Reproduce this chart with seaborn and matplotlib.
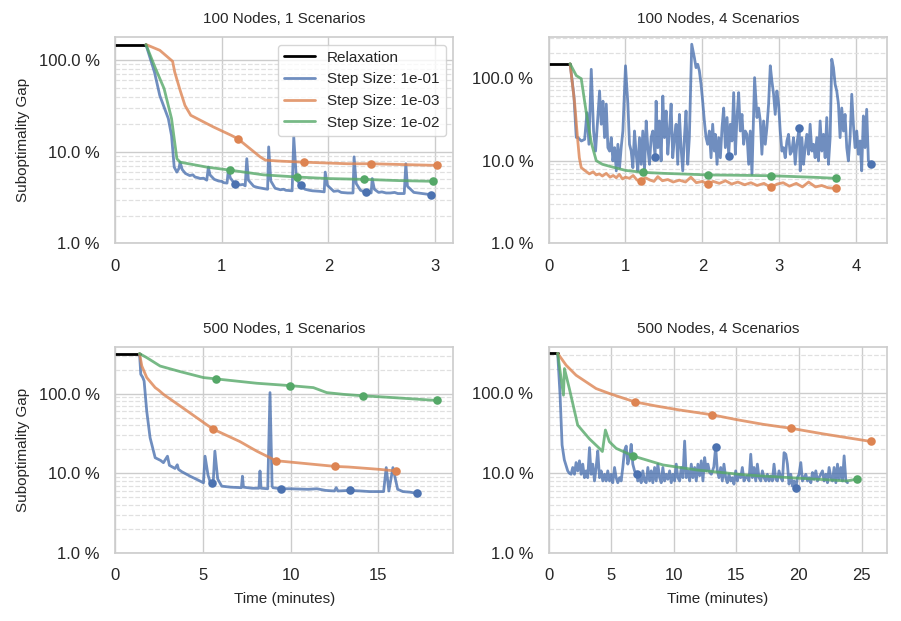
import matplotlib
matplotlib.use("Agg")
import matplotlib.pyplot as plt
from matplotlib.ticker import FuncFormatter, NullFormatter
import seaborn as sns

# ---------------- data ----------------
TITLES = ["100 Nodes, 1 Scenarios", "100 Nodes, 4 Scenarios",
          "500 Nodes, 1 Scenarios", "500 Nodes, 4 Scenarios"]
SERIES_LABELS = ["Step Size: 1e-01", "Step Size: 1e-03", "Step Size: 1e-02"]
RELAX_LABEL = "Relaxation"
Y_LABEL = "Suboptimality Gap"
X_LABEL = "Time (minutes)"

# Panel 1: 100 nodes, 1 scenario
P1_RELAX_X = [0, 0.29]
P1_RELAX_Y = [148, 148]
P1_B_X = [0.29, 0.37, 0.42, 0.50, 0.53, 0.555, 0.58, 0.60, 0.61, 0.63,
          0.66, 0.70, 0.73, 0.75, 0.78, 0.80, 0.83, 0.86, 0.875, 0.89,
          0.93, 0.97, 1.00, 1.02, 1.05, 1.063, 1.08, 1.12, 1.17, 1.20,
          1.22, 1.235, 1.25, 1.30, 1.33, 1.35, 1.40, 1.43, 1.44, 1.46,
          1.50, 1.55, 1.58, 1.60, 1.66, 1.675, 1.70, 1.74, 1.78, 1.82,
          1.85, 1.92, 1.96, 1.97, 1.99, 2.05, 2.09, 2.12, 2.18, 2.23,
          2.24, 2.26, 2.30, 2.35, 2.40, 2.41, 2.43, 2.47, 2.50, 2.54,
          2.58, 2.62, 2.65, 2.71, 2.725, 2.74, 2.80, 2.84, 2.88, 2.92, 2.96]
P1_B_Y = [148, 74, 41, 23, 15, 6.8, 6.0, 6.6, 7.7, 6.4,
          5.8, 5.5, 5.6, 5.3, 5.2, 5.1, 5.15, 4.9, 6.8, 5.6,
          5.0, 4.8, 4.75, 4.6, 4.55, 6.5, 5.2, 4.5, 4.35, 4.4,
          4.25, 8.4, 4.9, 4.2, 4.1, 4.05, 3.95, 3.9, 11.3, 4.8,
          4.0, 3.85, 3.9, 3.8, 3.75, 14.5, 5.0, 4.3, 3.9, 3.8,
          3.75, 3.7, 3.65, 6.0, 4.3, 3.7, 3.75, 3.6, 3.55, 3.55,
          8.8, 4.5, 3.8, 3.6, 3.55, 5.1, 3.9, 3.6, 3.65, 3.55,
          3.55, 3.6, 3.5, 3.5, 7.4, 4.2, 3.6, 3.55, 3.5, 3.45, 3.4]
P1_B_MX = [1.12, 1.74, 2.35, 2.96]
P1_B_MY = [4.5, 4.3, 3.6, 3.4]
P1_O_X = [0.29, 0.42, 0.54, 0.56, 0.61, 0.656, 0.71, 0.92, 1.09, 1.15, 1.36, 1.41, 1.55, 1.77, 2.18, 2.40, 2.70, 3.02]
P1_O_Y = [148, 128, 97, 74, 47, 32, 25, 18.7, 15.1, 13.9, 8.8, 8.1, 7.9, 7.7, 7.4, 7.4, 7.25, 7.1]
P1_O_MX = [1.15, 1.77, 2.40, 3.02]
P1_O_MY = [13.9, 7.7, 7.4, 7.1]
P1_G_X = [0.29, 0.38, 0.46, 0.53, 0.58, 0.61, 0.86, 1.08, 1.39, 1.71, 2.00, 2.33, 2.65, 2.98]
P1_G_Y = [148, 81, 49, 23, 8.4, 7.7, 6.8, 6.3, 5.6, 5.3, 5.1, 5.0, 4.85, 4.76]
P1_G_MX = [1.08, 1.71, 2.33, 2.98]
P1_G_MY = [6.3, 5.3, 5.0, 4.76]

# Panel 2: 100 nodes, 4 scenarios
P2_RELAX_X = [0, 0.28]
P2_RELAX_Y = [147, 147]
P2_B_X = [0.28, 0.33, 0.36, 0.382, 0.426, 0.469, 0.499, 0.525, 0.555, 0.585,
          0.611, 0.642, 0.663, 0.685, 0.707, 0.728, 0.75, 0.771, 0.793, 0.815,
          0.836, 0.858, 0.88, 0.901, 0.923, 0.944, 0.966, 1.0, 1.031, 1.052,
          1.074, 1.096, 1.117, 1.139, 1.16, 1.182, 1.204, 1.225, 1.247, 1.269,
          1.29, 1.312, 1.333, 1.355, 1.385, 1.398, 1.42, 1.441, 1.463, 1.485,
          1.506, 1.528, 1.55, 1.571, 1.593, 1.614, 1.636, 1.658, 1.679, 1.701,
          1.722, 1.744, 1.766, 1.787, 1.809, 1.83, 1.861, 1.895, 1.917, 1.939,
          1.96, 1.982, 2.003, 2.025, 2.047, 2.068, 2.09, 2.112, 2.133, 2.155,
          2.168, 2.19, 2.211, 2.233, 2.255, 2.276, 2.298, 2.32, 2.341, 2.363,
          2.384, 2.406, 2.428, 2.449, 2.471, 2.492, 2.514, 2.536, 2.557, 2.579,
          2.601, 2.622, 2.644, 2.678, 2.709, 2.73, 2.752, 2.773, 2.795, 2.817,
          2.838, 2.86, 2.882, 2.903, 2.925, 2.946, 2.968, 2.99, 3.011, 3.033,
          3.054, 3.076, 3.098, 3.119, 3.141, 3.163, 3.184, 3.206, 3.227, 3.258,
          3.271, 3.292, 3.314, 3.335, 3.357, 3.379, 3.4, 3.422, 3.444, 3.465,
          3.487, 3.508, 3.53, 3.552, 3.573, 3.595, 3.616, 3.638, 3.66, 3.681,
          3.703, 3.725, 3.746, 3.768, 3.789, 3.811, 3.833, 3.854, 3.876, 3.897,
          3.919, 3.941, 3.962, 3.984, 4.006, 4.027, 4.049, 4.07, 4.092, 4.114,
          4.135, 4.157, 4.19]
P2_B_Y = [147, 60, 19, 18.9, 17.2, 18, 37.8, 15.7, 126, 22.7,
          13.0, 36, 69, 27.4, 52, 18.9, 48, 14.3, 13.0, 18.9,
          9.9, 14.3, 7.5, 15.7, 8.2, 14.3, 22.7, 139, 48, 15.7,
          13.0, 8.2, 22.7, 11.9, 7.5, 18.9, 9.0, 22.7, 7.5, 30,
          14.3, 9.0, 18.9, 22.7, 11.0, 52, 14.3, 30, 9.9, 60,
          18.9, 39.6, 11.9, 22.7, 48, 10.8, 18.9, 27.4, 9.0, 36,
          14.3, 7.5, 18.9, 39.6, 9.0, 18.9, 253, 175, 132, 145,
          121, 83, 52, 30, 18.9, 15.7, 22.7, 10.8, 27.4, 13.0,
          20.7, 9.0, 18.9, 10.8, 25, 43, 14.3, 33, 11.4, 27.4,
          17.2, 66, 11.9, 33, 66, 22.7, 36, 15.7, 22.7, 20.7,
          9.0, 22.7, 6.8, 100, 33, 43, 30, 11.9, 30, 15.7,
          25, 48, 139, 91, 63, 36, 69, 48, 22.7, 13.0,
          14.3, 10.8, 17.2, 20.7, 11.9, 13.0, 18.9, 9.0, 15.7, 25,
          7.5, 18.9, 9.0, 14.3, 20.7, 11.9, 27.4, 13.0, 15.7, 10.8,
          18.9, 9.9, 30, 13.0, 20.7, 10.8, 33, 9.0, 18.9, 167,
          132, 83, 69, 48, 18.9, 43, 22.7, 36, 14.3, 9.9,
          18.9, 63, 27.4, 14.3, 22.7, 11.9, 17.2, 7.5, 34.5, 14.3,
          41.5, 9.9, 9.1]
P2_B_MX = [1.385, 2.341, 3.258, 4.19]
P2_B_MY = [11.0, 11.4, 25, 9.1]
P2_O_X = [0.28, 0.34, 0.38, 0.40, 0.425, 0.47, 0.53, 0.58, 0.62, 0.66,
          0.70, 0.75, 0.80, 0.84, 0.88, 0.92, 0.96, 1.00, 1.05, 1.10,
          1.15, 1.20, 1.26, 1.32, 1.37, 1.42, 1.48, 1.55, 1.62, 1.70,
          1.78, 1.85, 1.92, 2.00, 2.07, 2.14, 2.22, 2.30, 2.38, 2.46,
          2.55, 2.63, 2.71, 2.80, 2.89, 2.97, 3.05, 3.13, 3.22, 3.30,
          3.38, 3.47, 3.55, 3.63, 3.73]
P2_O_Y = [147, 48, 17.2, 10.8, 8.2, 7.6, 6.9, 7.3, 6.7, 6.9,
          6.5, 7.0, 6.3, 6.6, 6.2, 6.8, 6.0, 6.3, 6.1, 6.6,
          5.8, 5.7, 6.2, 5.8, 5.6, 6.4, 5.7, 5.9, 5.5, 5.8,
          5.5, 6.3, 5.4, 5.6, 5.2, 5.6, 5.3, 5.7, 5.2, 5.5,
          5.1, 5.4, 5.0, 5.3, 4.73, 5.2, 5.4, 4.9, 5.3, 4.8,
          5.5, 4.8, 5.0, 4.7, 4.6]
P2_O_MX = [1.20, 2.07, 2.89, 3.73]
P2_O_MY = [5.7, 5.2, 4.73, 4.6]
P2_G_X = [0.28, 0.36, 0.425, 0.49, 0.555, 0.62, 0.70, 0.84, 1.0, 1.225, 1.5, 1.8, 2.07, 2.4, 2.89, 3.2, 3.5, 3.73]
P2_G_Y = [147, 106, 97, 38, 16.5, 9.95, 9.0, 8.3, 7.6, 7.2, 7.0, 6.85, 6.7, 6.65, 6.55, 6.4, 6.25, 6.1]
P2_G_MX = [1.225, 2.07, 2.89, 3.73]
P2_G_MY = [7.2, 6.7, 6.55, 6.1]

# Panel 3: 500 nodes, 1 scenario
P3_RELAX_X = [0, 1.40]
P3_RELAX_Y = [318, 318]
P3_B_X = [1.40, 1.47, 1.58, 1.66, 1.81, 2.00, 2.29, 2.60, 2.76, 2.99,
          3.1, 3.42, 3.55, 3.62, 3.8, 4.28, 4.7, 5.04, 5.13, 5.3,
          5.42, 5.52, 5.60, 5.69, 5.85, 6.08, 6.6, 7.2, 7.26, 7.32,
          7.8, 8.2, 8.26, 8.32, 8.7, 8.83, 8.95, 9.0, 9.44, 10.0,
          11.0, 11.5, 12.0, 12.5, 12.6, 12.7, 13.36, 14.0, 14.5, 15.1,
          15.3, 15.45, 15.6, 15.83, 16.1, 16.4, 16.8, 17.22]
P3_B_Y = [318, 175, 160, 144, 60, 28, 15.7, 14.5, 13.6, 16.4,
          12.6, 11.5, 12.8, 11.2, 10.5, 9.2, 8.3, 7.6, 16.4, 9.5,
          7.8, 7.6, 8.0, 19, 8.5, 6.9, 6.7, 6.6, 9.2, 6.7,
          6.5, 6.5, 10.7, 6.5, 6.4, 103, 6.9, 6.6, 6.4, 6.4,
          6.3, 6.4, 6.1, 6.0, 6.6, 6.0, 6.1, 6.0, 5.9, 5.9,
          5.9, 11.8, 6.0, 11.8, 6.3, 5.9, 5.8, 5.6]
P3_B_MX = [5.52, 9.44, 13.36, 17.22]
P3_B_MY = [7.6, 6.4, 6.1, 5.6]
P3_O_X = [1.40, 1.53, 1.81, 2.29, 2.50, 2.76, 3.71, 5.57, 7.12, 8.07, 9.17, 12.55, 13.3, 15.09, 15.98]
P3_O_Y = [318, 222, 159, 119, 110, 98, 70, 36, 25, 19, 14.4, 12.2, 12.0, 11.2, 10.7]
P3_O_MX = [5.57, 9.17, 12.55, 15.98]
P3_O_MY = [36, 14.4, 12.2, 10.7]
P3_G_X = [1.40, 1.81, 2.57, 3.71, 5.04, 5.76, 8.07, 9.97, 11.30, 12.06, 13.0, 14.10, 15.9, 18.36]
P3_G_Y = [318, 283, 222, 189, 159, 153, 135, 126, 119, 103, 98, 94, 89, 82]
P3_G_MX = [5.76, 9.97, 14.10, 18.36]
P3_G_MY = [153, 126, 94, 82]

# Panel 4: 500 nodes, 4 scenarios
P4_RELAX_X = [0, 0.73]
P4_RELAX_Y = [318, 318]
P4_B_X = [0.73, 0.92, 1.08, 1.26, 1.53, 1.66, 1.8, 1.93, 2.07, 2.2,
          2.33, 2.47, 2.6, 2.73, 2.87, 3.0, 3.13, 3.27, 3.4, 3.53,
          3.67, 3.8, 3.93, 4.07, 4.2, 4.33, 4.47, 4.6, 4.73, 4.87,
          5.0, 5.13, 5.27, 5.4, 5.53, 5.67, 5.8, 5.93, 6.06, 6.2,
          6.33, 6.47, 6.6, 6.73, 6.87, 7.06, 7.13, 7.27, 7.4, 7.53,
          7.67, 7.8, 7.93, 8.07, 8.2, 8.33, 8.47, 8.6, 8.73, 8.87,
          9.0, 9.13, 9.27, 9.4, 9.53, 9.67, 9.8, 9.93, 10.07, 10.2,
          10.33, 10.47, 10.6, 10.73, 10.87, 11.0, 11.13, 11.27, 11.4, 11.53,
          11.67, 11.8, 11.93, 12.07, 12.2, 12.33, 12.47, 12.6, 12.73, 12.87,
          13.0, 13.2, 13.35, 13.48, 13.61, 13.75, 13.88, 14.01, 14.15, 14.28,
          14.41, 14.55, 14.68, 14.81, 14.95, 15.08, 15.21, 15.35, 15.48, 15.61,
          15.75, 15.88, 16.01, 16.15, 16.28, 16.41, 16.55, 16.68, 16.81, 16.95,
          17.08, 17.21, 17.35, 17.48, 17.61, 17.75, 17.88, 18.01, 18.15, 18.28,
          18.41, 18.55, 18.68, 18.81, 18.95, 19.08, 19.21, 19.35, 19.48, 19.61,
          19.75, 19.88, 20.01, 20.15, 20.28, 20.41, 20.55, 20.68, 20.81, 20.95,
          21.08, 21.21, 21.35, 21.48, 21.61, 21.75, 21.88, 22.01, 22.15, 22.28,
          22.41, 22.55, 22.68, 22.81, 22.95, 23.08, 23.21, 23.35, 23.48, 23.61,
          23.75, 23.88]
P4_B_Y = [318, 95, 22.6, 14.7, 10.7, 10.0, 9.7, 11.8, 9.7, 13.6,
          10.7, 14.3, 9.7, 13.0, 8.8, 10.7, 8.8, 20.9, 9.7, 13.0,
          8.0, 11.8, 19.0, 8.8, 10.7, 8.0, 9.7, 8.0, 10.7, 8.0,
          9.7, 7.6, 11.8, 8.8, 7.6, 8.8, 8.0, 11.8, 19.0, 21.9,
          13.0, 15.7, 23.0, 13.0, 10.7, 9.7, 8.0, 8.8, 7.6, 10.7,
          8.0, 7.6, 11.8, 8.0, 10.7, 7.6, 11.8, 8.0, 13.0, 8.8,
          7.6, 11.8, 8.0, 9.7, 8.4, 10.7, 7.6, 9.7, 8.0, 13.0,
          8.8, 8.0, 11.8, 8.8, 25.3, 8.8, 10.7, 8.0, 13.0, 8.8,
          11.8, 8.0, 13.0, 9.3, 14.3, 8.0, 15.7, 10.7, 13.0, 10.2,
          9.7, 12.0, 21.5, 10.7, 8.8, 11.8, 8.0, 13.0, 8.8, 7.6,
          9.7, 8.0, 8.8, 7.3, 10.7, 8.0, 9.7, 8.8, 11.8, 8.0,
          8.8, 9.25, 8.0, 17.3, 8.8, 11.8, 8.0, 13.0, 8.8, 8.0,
          10.7, 8.8, 8.0, 9.7, 8.0, 9.25, 8.0, 13.0, 8.4, 8.0,
          10.7, 8.8, 8.0, 18.1, 17.3, 13.0, 7.3, 9.7, 6.9, 8.0,
          6.5, 8.8, 9.7, 13.6, 8.0, 8.8, 9.7, 8.0, 8.8, 7.6,
          10.2, 8.4, 10.7, 8.0, 8.8, 9.7, 10.7, 8.0, 9.7, 7.6,
          11.8, 8.8, 8.0, 11.8, 7.6, 13.0, 8.4, 11.8, 8.0, 16.5,
          8.0, 7.6]
P4_B_MX = [7.06, 13.35, 19.75]
P4_B_MY = [9.7, 21.5, 6.5]
P4_O_X = [0.73, 1.40, 2.2, 3.8, 5.0, 6.87, 8.5, 10.47, 13.06, 15.0, 17.14, 19.4, 22.0, 25.75]
P4_O_Y = [318, 226, 169, 115, 98, 78.5, 70, 62, 54, 47, 41, 36.5, 31, 25]
P4_O_MX = [6.87, 13.06, 19.4, 25.75]
P4_O_MY = [78.5, 54, 36.5, 25]
P4_G_X = [0.73, 1.0, 1.19, 1.27, 1.66, 2.33, 3.26, 4.06, 4.3, 4.54, 4.86, 5.4, 6.78, 9.14, 11.8, 15.8, 19.8, 23.8, 24.6]
P4_G_Y = [318, 154, 95, 205, 115, 40, 27, 20.5, 18.7, 34.8, 24.8, 20.5, 16.4, 12.7, 11.0, 9.5, 8.7, 8.0, 8.4]
P4_G_MX = [6.78, 24.6]
P4_G_MY = [16.4, 8.4]

# ---------------- styling ----------------
sns.set_theme(style="whitegrid")
plt.rcParams["font.family"] = ["Liberation Sans", "DejaVu Sans"]
pal = sns.color_palette("deep")
C_BLUE, C_ORANGE, C_GREEN = pal[0], pal[1], pal[2]

panels = [
    (P1_RELAX_X, P1_RELAX_Y,
     [(P1_B_X, P1_B_Y, P1_B_MX, P1_B_MY), (P1_O_X, P1_O_Y, P1_O_MX, P1_O_MY), (P1_G_X, P1_G_Y, P1_G_MX, P1_G_MY)]),
    (P2_RELAX_X, P2_RELAX_Y,
     [(P2_B_X, P2_B_Y, P2_B_MX, P2_B_MY), (P2_O_X, P2_O_Y, P2_O_MX, P2_O_MY), (P2_G_X, P2_G_Y, P2_G_MX, P2_G_MY)]),
    (P3_RELAX_X, P3_RELAX_Y,
     [(P3_B_X, P3_B_Y, P3_B_MX, P3_B_MY), (P3_O_X, P3_O_Y, P3_O_MX, P3_O_MY), (P3_G_X, P3_G_Y, P3_G_MX, P3_G_MY)]),
    (P4_RELAX_X, P4_RELAX_Y,
     [(P4_B_X, P4_B_Y, P4_B_MX, P4_B_MY), (P4_O_X, P4_O_Y, P4_O_MX, P4_O_MY), (P4_G_X, P4_G_Y, P4_G_MX, P4_G_MY)]),
]
colors = [C_BLUE, C_ORANGE, C_GREEN]

fig, axes = plt.subplots(2, 2, figsize=(9.01, 6.21), dpi=100)
fig.subplots_adjust(left=0.1276, right=0.9845, top=0.9404, bottom=0.1095, wspace=0.281, hspace=0.5)

for i, (ax, (rx, ry, series)) in enumerate(zip(axes.flat, panels)):
    ax.set_yscale("log")
    first = (i == 0)
    sns.lineplot(x=rx, y=ry, ax=ax, color="black", linewidth=2,
                 estimator=None, sort=False, label=RELAX_LABEL if first else None)
    for (sx, sy, mx, my), c, lab in zip(series, colors, SERIES_LABELS):
        assert len(sx) == len(sy), (i, lab, len(sx), len(sy))
        sns.lineplot(x=sx, y=sy, ax=ax, color=c, linewidth=2, alpha=0.8,
                     estimator=None, sort=False, label=lab if first else None)
        sns.scatterplot(x=mx, y=my, ax=ax, color=c, s=38, linewidth=0,
                        zorder=3, legend=False)
    ax.set_ylim(bottom=1.0)
    ax.set_xlim(left=0)
    ax.yaxis.set_major_formatter(FuncFormatter(lambda v, p: f"{v:.1f} %"))
    ax.yaxis.set_minor_formatter(NullFormatter())
    ax.grid(True, which="major", color="0.8", linewidth=1)
    ax.yaxis.grid(True, which="minor", color="0.88", linestyle="--", linewidth=0.9)
    ax.tick_params(labelsize=12, which="both", length=0, pad=11)
    ax.set_title(TITLES[i], fontsize=11, pad=10)
    ax.set_xlabel(X_LABEL if i >= 2 else "", fontsize=11, labelpad=6)
    ax.set_ylabel(Y_LABEL if i % 2 == 0 else "", fontsize=11, labelpad=6)
    for sp in ax.spines.values():
        sp.set_color("0.8")
        sp.set_linewidth(1.2)
    if first:
        ax.legend(loc="upper right", fontsize=11)
    else:
        leg = ax.get_legend()
        if leg is not None:
            leg.remove()

fig.savefig("out.png", dpi=100)
